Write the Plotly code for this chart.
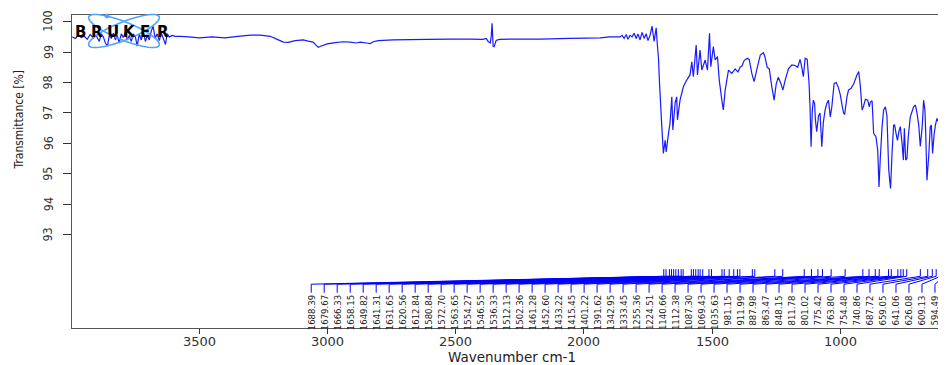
import math
import plotly.graph_objects as go

# ---------------- data ----------------
WAVENUMBER = [3995, 3983, 3972, 3960, 3948, 3937, 3925, 3913, 3902, 3890, 3882, 3874, 3866, 3858,
              3851, 3843, 3835, 3827, 3820, 3812, 3804, 3796, 3788, 3781, 3773, 3765, 3757, 3749,
              3742, 3734, 3726, 3718, 3710, 3703, 3695, 3687, 3680, 3672, 3664, 3656, 3648, 3640,
              3632, 3625, 3617, 3605, 3594, 3574, 3540, 3500, 3450, 3400, 3350, 3300, 3262, 3223,
              3196, 3172, 3153, 3126, 3095, 3075, 3056, 3044, 3036, 3024, 3001, 2970, 2939, 2911,
              2888, 2872, 2849, 2833, 2822, 2802, 2744, 2677, 2611, 2521, 2443, 2393, 2381, 2373,
              2365, 2361, 2358, 2354, 2350, 2342, 2330, 2288, 2171, 2054, 1937, 1898, 1859, 1851,
              1843, 1835, 1828, 1820, 1812, 1804, 1796, 1789, 1781, 1773, 1765, 1757, 1750, 1742,
              1734, 1726, 1718, 1714, 1709, 1705, 1696, 1690, 1683, 1679, 1670, 1664, 1657, 1653,
              1644, 1638, 1635, 1625, 1612, 1599, 1586, 1579, 1573, 1562, 1557, 1547, 1540, 1527,
              1518, 1510, 1505, 1495, 1488, 1479, 1472, 1462, 1456, 1449, 1436, 1423, 1410, 1399,
              1391, 1383, 1375, 1363, 1355, 1345, 1336, 1325, 1312, 1300, 1294, 1285, 1277, 1267,
              1258, 1250, 1242, 1232, 1224, 1215, 1202, 1189, 1176, 1166, 1157, 1150, 1144, 1137,
              1129, 1122, 1118, 1114, 1109, 1105, 1100, 1097, 1092, 1085, 1079, 1072, 1066, 1059,
              1053, 1046, 1039, 1033, 1024, 1016, 1008, 1000, 994, 987, 983, 974, 968, 958, 948,
              935, 928, 922, 915, 910, 902, 893, 887, 883, 876, 870, 861, 854, 849, 844, 837, 831,
              824, 818, 811, 804, 798, 792, 788, 782, 777, 771, 766, 759, 754, 750, 745, 740, 735,
              727, 714, 707, 701, 694, 688, 681, 675, 670, 667, 662, 655, 649, 645, 640, 634, 629,
              623, 616, 610, 603, 597, 593, 591, 589, 586]
TRANSMITTANCE = [99.50, 99.45, 99.55, 99.48, 99.52, 99.42, 99.58, 99.46, 99.55, 99.35, 99.60, 99.50, 99.30, 99.20,
                 99.55, 99.45, 99.62, 99.40, 99.55, 99.30, 99.60, 99.48, 99.65, 99.40, 99.55, 99.35, 99.60, 99.50,
                 99.20, 99.60, 99.40, 99.65, 99.35, 99.55, 99.40, 99.70, 99.85, 99.45, 99.60, 99.38, 99.62, 99.45,
                 99.25, 99.60, 99.50, 99.55, 99.52, 99.52, 99.50, 99.47, 99.50, 99.47, 99.52, 99.56, 99.56, 99.52,
                 99.42, 99.33, 99.32, 99.38, 99.40, 99.36, 99.33, 99.22, 99.16, 99.20, 99.27, 99.31, 99.34, 99.33,
                 99.30, 99.33, 99.30, 99.28, 99.34, 99.38, 99.40, 99.41, 99.42, 99.43, 99.43, 99.42, 99.45, 99.35,
                 99.30, 99.55, 99.95, 99.20, 99.18, 99.38, 99.42, 99.43, 99.43, 99.45, 99.47, 99.50, 99.50, 99.55,
                 99.45, 99.58, 99.42, 99.55, 99.50, 99.62, 99.45, 99.60, 99.40, 99.65, 99.45, 99.60, 99.38, 99.55,
                 99.85, 99.35, 99.80, 99.30, 98.80, 97.98, 96.55, 95.67, 96.10, 95.72, 96.33, 96.67, 97.53, 96.44,
                 97.33, 97.53, 96.77, 97.42, 97.86, 98.08, 98.25, 98.68, 98.19, 99.23, 98.25, 99.07, 98.41, 98.74,
                 98.41, 99.62, 98.52, 99.18, 98.74, 98.85, 98.08, 97.42, 97.10, 97.75, 98.41, 98.30, 98.45, 98.35,
                 98.50, 98.55, 98.72, 98.80, 98.75, 98.30, 98.03, 98.45, 98.90, 98.98, 98.85, 98.50, 98.45, 97.86,
                 97.42, 97.95, 98.17, 97.98, 97.75, 98.08, 98.45, 98.58, 98.56, 98.50, 98.76, 98.50, 98.19, 98.80,
                 98.76, 98.00, 97.21, 95.89, 97.10, 97.42, 97.30, 96.77, 96.38, 96.90, 97.00, 95.89, 96.70, 97.10,
                 97.30, 97.42, 96.87, 97.20, 97.97, 98.00, 97.85, 97.60, 97.30, 96.99, 96.95, 97.53, 97.75, 97.81, 97.95,
                 98.25, 98.36, 97.90, 97.10, 97.20, 97.45, 97.42, 97.20, 97.35, 97.40, 96.33, 96.22, 95.78, 94.57, 95.50, 96.55, 97.10,
                 97.20, 96.90, 95.12, 94.52, 95.70, 96.60, 96.60, 96.30, 96.10, 96.40, 96.55, 96.00, 95.45, 96.50, 95.45, 95.50, 96.20,
                 96.87, 97.20, 97.26, 97.00, 96.60, 95.90, 96.50, 97.42, 97.10, 96.40, 94.79, 95.60, 96.55, 96.60, 95.67, 96.30, 96.60,
                 96.82, 96.70, 96.82, 96.50, 96.00, 95.67, 95.95, 94.00, 93.50]

PEAK_LABELS = ["1688.39", "1679.67", "1666.33", "1658.15", "1649.82", "1641.31", "1631.65", "1620.56",
               "1612.84", "1580.84", "1572.70", "1563.65", "1554.27", "1546.55", "1536.33", "1512.13",
               "1502.36", "1461.28", "1452.60", "1433.22", "1415.45", "1401.22", "1391.62", "1342.95",
               "1333.45", "1255.36", "1224.51", "1140.66", "1112.38", "1087.30", "1069.43", "1035.63",
               "981.15", "911.99", "887.98", "863.47", "848.15", "811.78", "801.02", "775.42",
               "763.80", "754.48", "740.86", "687.72", "659.05", "641.06", "626.08", "609.13",
               "594.49", "583.52"]
PEAK_WN = [float(s) for s in PEAK_LABELS]

X_TICKS = [3500, 3000, 2500, 2000, 1500, 1000]
Y_TICKS = [93, 94, 95, 96, 97, 98, 99, 100]

# ---------------- layout constants ----------------
# the page body has an 8px margin, so the figure is laid out 8px up/left of the window targets
W, H = 946, 365
ML, MR, MT, MB = 64, 8, 7, 45
X_RANGE = [3996.3, 587.7]
Y_RANGE = [89.93, 100.22]
LABEL_START, LABEL_STEP = 3063.4, 50.68
Y_TICK_TOP, Y_TICK_BOT = 91.865, 91.63
Y_FAN_END, Y_LAB_TICK_END, Y_LABEL = 91.37, 91.09, 91.03

NARROW = "Liberation Sans Narrow, Arial Narrow, DejaVu Sans Condensed, Liberation Sans, sans-serif"
WIDE = "DejaVu Sans, Verdana, sans-serif"
BLUE = "#1a1aff"

fig = go.Figure()
fig.add_trace(go.Scatter(x=WAVENUMBER, y=TRANSMITTANCE, mode="lines",
                         line=dict(color=BLUE, width=1.2, simplify=False),
                         hoverinfo="x+y", showlegend=False))

# peak pick lines
fx, fy = [], []
for i, wn in enumerate(PEAK_WN):
    lx = LABEL_START - i * LABEL_STEP
    fx += [wn, wn, lx, lx, None]
    fy += [Y_TICK_TOP, Y_TICK_BOT, Y_FAN_END, Y_LAB_TICK_END, None]
fig.add_trace(go.Scatter(x=fx, y=fy, mode="lines", line=dict(color="#0000ff", width=1),
                         hoverinfo="skip", showlegend=False))

annotations = []
for i, lab in enumerate(PEAK_LABELS):
    lx = LABEL_START - i * LABEL_STEP
    annotations.append(dict(x=lx, y=Y_LABEL, xref="x", yref="y", text=lab, showarrow=False,
                            textangle=-90, xanchor="center", yanchor="top", borderpad=0,
                            font=dict(family=NARROW, size=9.5, color="#222")))

pw, ph = W - ML - MR, H - MT - MB
PLOT_L, PLOT_B = 72, 328   # window pixel positions of the plot's left and bottom edges


def px2paper(px, py):
    return (px - PLOT_L) / pw, (PLOT_B - py) / ph


# y tick labels (rotated, as in the original)
for v in Y_TICKS:
    annotations.append(dict(x=(48 - PLOT_L) / pw, y=v, xref="paper", yref="y", text=str(v),
                            showarrow=False, textangle=-90, xanchor="center", yanchor="middle",
                            borderpad=0, font=dict(family=NARROW, size=12.5, color="#333")))

# x tick labels
for v in X_TICKS:
    annotations.append(dict(x=v, y=(PLOT_B - 341.5) / ph, xref="x", yref="paper", text=str(v),
                            showarrow=False, xanchor="center", yanchor="middle", borderpad=0,
                            font=dict(family=WIDE, size=13, color="#333")))

# axis titles
tx, ty = px2paper(512, 357)
annotations.append(dict(x=tx, y=ty, xref="paper", yref="paper", text="Wavenumber cm-1",
                        showarrow=False, xanchor="center", yanchor="middle", borderpad=0,
                        font=dict(family=WIDE, size=13.5, color="#222")))
tx, ty = px2paper(18, 172)
annotations.append(dict(x=tx, y=ty, xref="paper", yref="paper", text="Transmittance [%]",
                        showarrow=False, textangle=-90, xanchor="center", yanchor="bottom",
                        font=dict(family=NARROW, size=12, color="#222")))

# Bruker logo (decoration)
shapes = []
for ang in (22, -22):
    a, b, cx, cy = 38, 9, 124, 31
    r = math.radians(ang)
    pts = []
    for k in range(0, 73):
        t = 2 * math.pi * k / 72
        ex, ey = a * math.cos(t), b * math.sin(t)
        px = cx + ex * math.cos(r) - ey * math.sin(r)
        py = cy + ex * math.sin(r) + ey * math.cos(r)
        qx, qy = px2paper(px, py)
        pts.append(f"{qx:.5f},{qy:.5f}")
    shapes.append(dict(type="path", xref="paper", yref="paper", path="M" + "L".join(pts) + "Z",
                       line=dict(color="#4da3ff", width=1.6)))
dx0, dy0 = px2paper(105, 14)
dx1, dy1 = px2paper(109, 18)
shapes.append(dict(type="circle", xref="paper", yref="paper", x0=dx0, y0=dy1, x1=dx1, y1=dy0,
                   fillcolor="#4da3ff", line=dict(color="#4da3ff", width=1)))
for ch, cxp in zip("BRUKER", [80, 97, 113, 129, 145, 163]):
    qx, qy = px2paper(cxp, 32)
    annotations.append(dict(x=qx, y=qy, xref="paper", yref="paper", text=f"<b>{ch}</b>",
                            showarrow=False, xanchor="center", yanchor="middle",
                            font=dict(family="DejaVu Sans", size=15, color="#000")))

fig.update_layout(
    width=W, height=H, margin=dict(l=ML, r=MR, t=MT, b=MB, autoexpand=False),
    paper_bgcolor="white", plot_bgcolor="white",
    showlegend=False, annotations=annotations, shapes=shapes,
    xaxis=dict(range=X_RANGE, tickvals=X_TICKS, showticklabels=False,
               ticks="outside", ticklen=5, tickcolor="#333", tickwidth=1, automargin=False,
               showline=True, linecolor="#555", linewidth=1.3, mirror=True,
               showgrid=False, zeroline=False),
    yaxis=dict(range=Y_RANGE, tickvals=Y_TICKS, showticklabels=False,
               ticks="outside", ticklen=8, tickcolor="#333", tickwidth=1, automargin=False,
               showline=True, linecolor="#555", linewidth=1.3, mirror=False,
               showgrid=False, zeroline=False),
)
fig.write_html("out.html")
